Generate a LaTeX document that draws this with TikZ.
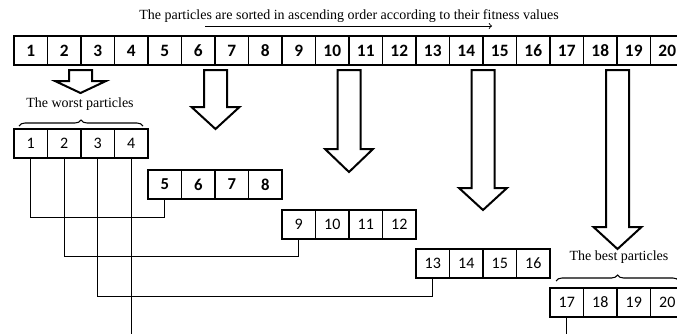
\documentclass[tikz,border=0pt]{standalone}
\usepackage{fontspec}
\setmainfont{Liberation Serif}
\newfontfamily\numfont{Carlito}
\usetikzlibrary{decorations.pathreplacing}

\tikzset{
	cell/.style={draw,line width=0.9pt,minimum width=25.125pt,minimum height=21.75pt,inner sep=0pt,font=\numfont\fontsize{12}{12}\selectfont},
	cellb/.style={cell,line width=1.2pt,font=\numfont\bfseries\fontsize{12.5}{12}\selectfont},
	toprow/.style={cell,line width=1.4pt,font=\numfont\bfseries\fontsize{13}{13}\selectfont},
	hollow/.style={draw,line width=1.5pt,line join=miter},
	link/.style={draw,line width=0.9pt},
	label/.style={inner sep=0.75pt,font=\fontsize{10.5}{12}\selectfont},
	bracket/.style={draw,line width=0.8pt,decorate,decoration={brace,amplitude=4.5pt}}
}

\begin{document}
\begin{tikzpicture}[x=0.75pt,y=0.75pt,yscale=-1,xscale=1]
	\useasboundingbox (0,0) rectangle (677,333);

	% Text Node
	\node [label] (title) at (349,16) {The particles are sorted in ascending order according to their fitness values};
	\coordinate (order0) at (205,26);
	\coordinate (order1) at (492,26);
	\draw [line width=0.7pt,->] (order0) -- (order1);

	%sorted particles
	\foreach \i in {1,...,20}
		\node [toprow] (t\i) at ({-2.75+33.5*\i},50.5) {\i};

	%hollow arrows
	\draw [hollow] (69,70) -- (92,70) -- (92,81) -- (106,81) -- (80.5,93) -- (55,81) -- (69,81) -- cycle;
	\foreach \c/\b/\p in {215.5/107/129,349/149/172,483/188/210,617.5/227/249}
		\draw [hollow] (\c-11.5,70) -- (\c+11.5,70) -- (\c+11.5,\b) -- (\c+24,\b) -- (\c,\p) -- (\c-24,\b) -- (\c-11.5,\b) -- cycle;

	% Text Node
	\node [label] (worst) at (80,104) {The worst particles};
	\draw [bracket] (19,126) -- (143,126);
	% Text Node
	\node [label] (best) at (619,257) {The best particles};
	\draw [bracket] (556,281) -- (679,281);

	%groups of four
	\foreach \k/\yy/\st in {0/143.5/cell,1/184.5/cellb,2/224.5/cell,3/263.5/cell,4/302.5/cell}
		\foreach \j in {1,...,4} {
			\pgfmathtruncatemacro\n{4*\k+\j}
			\node [\st] (g\n) at ({-2.75+134*\k+33.5*\j},\yy) {\n};
		}

	%links
	\draw [link] (g1.south) -- ++(0,59) -| (g5.south);
	\draw [link] (g2.south) -- ++(0,98) -| (g9.south);
	\draw [link] (g3.south) -- ++(0,138) -| (g13.south);
	\draw [link] (g4.south) -- ++(0,185) -| (g17.south);
\end{tikzpicture}
\end{document}
